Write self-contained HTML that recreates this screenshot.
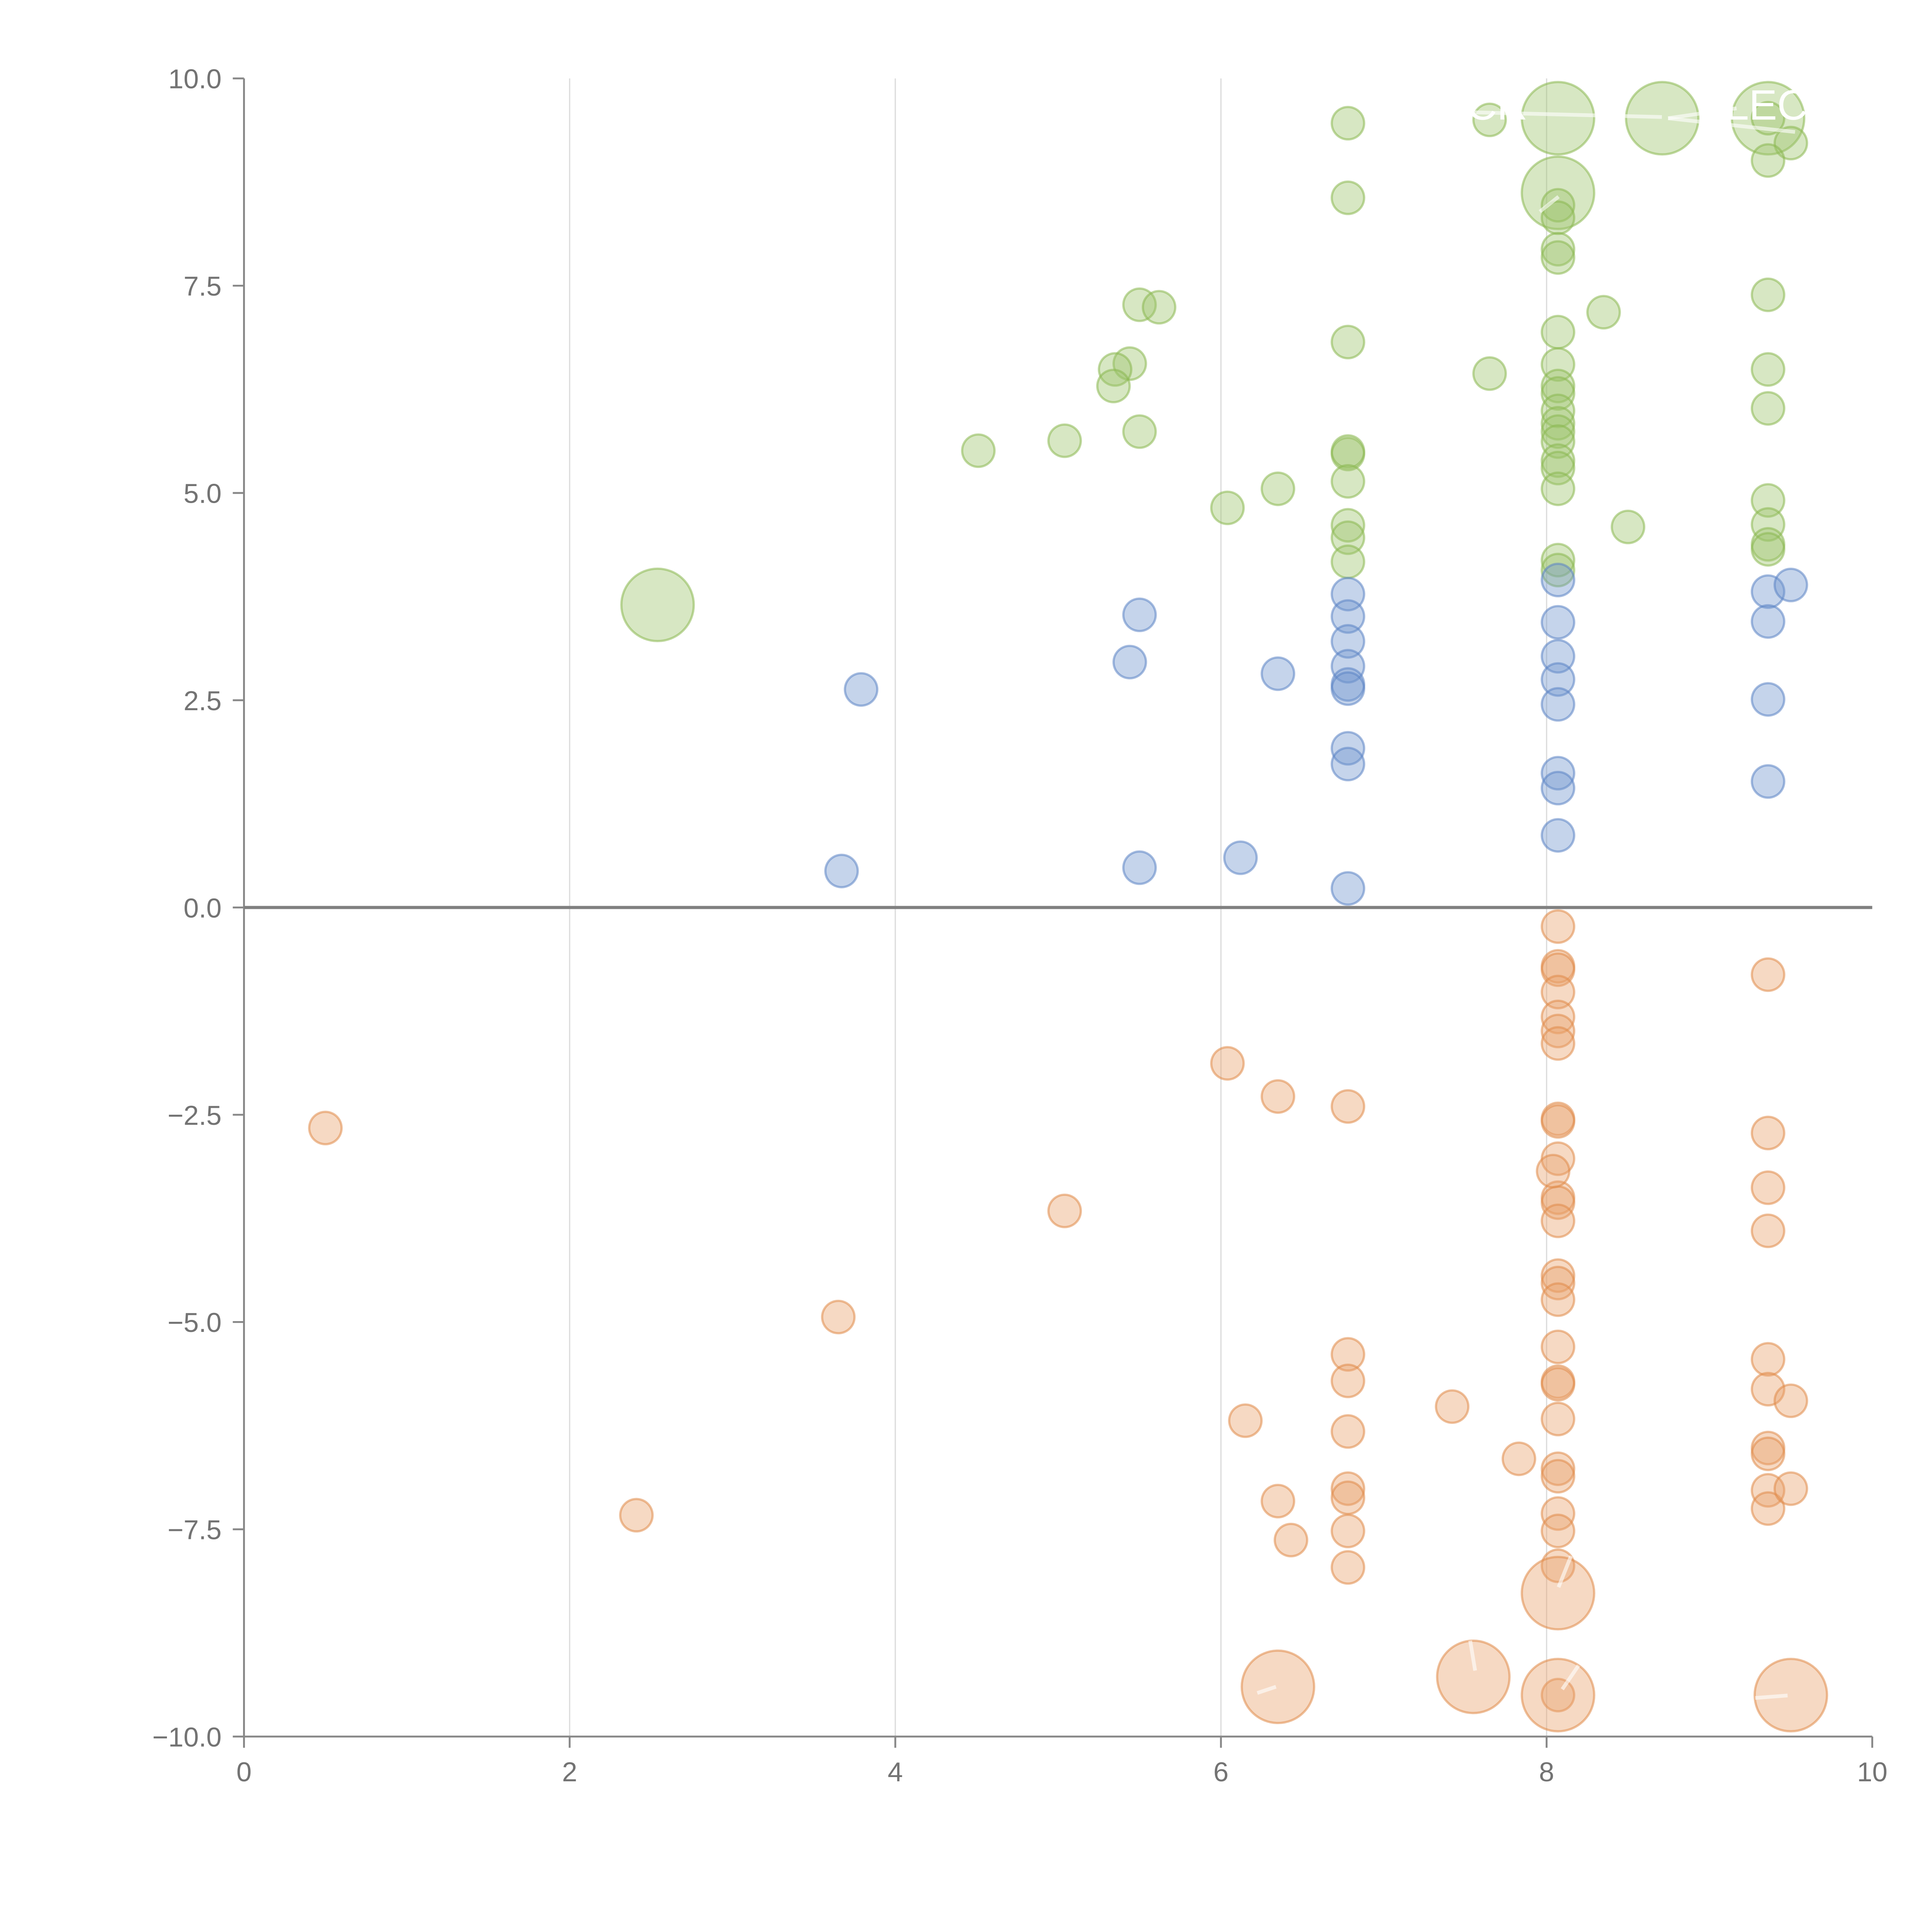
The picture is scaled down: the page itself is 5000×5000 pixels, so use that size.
<!DOCTYPE html>
<html><head><meta charset="utf-8"><style>
html,body{margin:0;padding:0;background:#fff;}
svg{display:block;font-family:"Liberation Sans",Arial,sans-serif;}
</style></head><body>
<svg id="chart" width="5000" height="5000" viewBox="0 0 1552 1552" xmlns="http://www.w3.org/2000/svg">
<g id="grid"></g>
<g id="axes"></g>
<g id="marks"></g>
<g id="labels"></g>
</svg>
<script>
const xTicks=[0,2,4,6,8,10];
const yTicks=[10,7.5,5,2.5,0,-2.5,-5,-7.5,-10];
const yTickLabels=["10.0","7.5","5.0","2.5","0.0","\u22122.5","\u22125.0","\u22127.5","\u221210.0"];
const greenX=[6.78,6.78,6.78,6.78,6.78,6.78,6.78,6.78,6.78,7.65,8.07,8.71,9.36,9.36,9.50,9.36,8.07,8.07,8.07,8.07,8.07,8.35,7.65,8.07,8.07,8.07,8.07,8.07,8.07,8.07,8.07,8.07,8.07,8.07,8.07,8.07,8.50,9.36,9.36,9.36,9.36,9.36,9.36,9.36,5.50,5.62,5.44,5.35,5.34,4.51,5.04,5.50,6.04,6.35,2.54];
const greenY=[9.46,8.56,6.82,5.47,5.50,5.14,4.61,4.46,4.17,9.50,9.52,9.52,9.52,9.52,9.22,9.01,8.62,8.47,8.32,7.94,7.84,7.18,6.44,6.94,6.55,6.29,6.20,5.99,5.84,5.74,5.62,5.39,5.30,5.05,4.19,4.07,4.59,7.39,6.49,6.02,4.91,4.62,4.38,4.32,7.27,7.24,6.56,6.49,6.29,5.51,5.63,5.74,4.82,5.05,3.65];
const greenS=[1,1,1,1,1,1,1,1,1,1,5,5,5,1,1,1,5,1,1,1,1,1,1,1,1,1,1,1,1,1,1,1,1,1,1,1,1,1,1,1,1,1,1,1,1,1,1,1,1,1,1,1,1,1,5];
const blueX=[3.79,3.67,5.50,5.44,5.50,6.12,6.35,6.78,6.78,6.78,6.78,6.78,6.78,6.78,6.78,6.78,8.07,8.07,8.07,8.07,8.07,8.07,8.07,8.07,9.36,9.36,9.36,9.36,9.50];
const blueY=[2.63,0.44,3.53,2.96,0.48,0.60,2.82,3.78,3.51,3.21,2.91,2.69,2.64,1.92,1.73,0.23,3.95,3.44,3.03,2.75,2.45,1.62,1.44,0.87,3.81,3.45,2.51,1.52,3.89];
const blueS=[1,1,1,1,1,1,1,1,1,1,1,1,1,1,1,1,1,1,1,1,1,1,1,1,1,1,1,1,1];
const orangeX=[0.50,2.41,3.65,5.04,6.04,6.35,6.78,6.15,6.35,6.43,6.78,6.78,6.78,6.78,6.78,6.78,6.78,7.42,7.83,8.07,8.07,8.07,8.07,8.07,8.07,8.07,8.07,8.07,8.07,8.07,8.07,8.07,8.07,8.07,8.07,8.07,8.07,8.07,8.07,8.07,8.07,8.07,8.07,8.07,8.07,8.04,8.07,8.07,6.35,7.55,9.50,9.36,9.36,9.36,9.36,9.36,9.36,9.36,9.36,9.36,9.36,9.50,9.50];
const orangeY=[-2.66,-7.33,-4.94,-3.66,-1.88,-2.28,-2.40,-6.19,-7.16,-7.63,-5.39,-5.71,-6.32,-7.01,-7.12,-7.52,-7.96,-6.02,-6.65,-0.23,-0.71,-0.75,-1.02,-1.32,-1.49,-1.64,-2.55,-2.58,-3.03,-3.50,-3.56,-3.78,-4.44,-4.53,-4.73,-5.30,-5.72,-5.75,-6.17,-6.77,-6.86,-7.31,-7.52,-7.94,-9.50,-3.18,-8.27,-9.50,-9.40,-9.28,-9.50,-0.81,-2.72,-3.38,-3.90,-5.45,-5.81,-6.52,-6.59,-7.03,-7.25,-5.95,-7.01];
const orangeS=[1,1,1,1,1,1,1,1,1,1,1,1,1,1,1,1,1,1,1,1,1,1,1,1,1,1,1,1,1,1,1,1,1,1,1,1,1,1,1,1,1,1,1,1,1,1,5,5,5,5,5,1,1,1,1,1,1,1,1,1,1,1,1];

const NS="http://www.w3.org/2000/svg";
const X0=196,X1=1504,YT=63,YB=1395;
function sx(v){return X0+(v-0)/(10-0)*(X1-X0);}
function sy(v){return YB-(v+10)/20*(YB-YT);}
function sr(s){return 13*Math.sqrt(s);}
function mk(tag,attrs,parent){const e=document.createElementNS(NS,tag);for(const k in attrs)e.setAttribute(k,attrs[k]);parent.appendChild(e);return e;}
const grid=document.getElementById('grid'),axes=document.getElementById('axes'),marks=document.getElementById('marks'),labels=document.getElementById('labels');

xTicks.forEach(function(t){
  if(t>0&&t<10){
    const g=mk('line',{x1:sx(t),x2:sx(t),y1:YT,y2:YB,stroke:'#dcdcdc','stroke-width':1},grid);
    
    
  }
  const tk=mk('line',{x1:sx(t),x2:sx(t),y1:YB,y2:YB+9,stroke:'#888','stroke-width':1.5},axes);
  
  
  const tl=mk('text',{x:sx(t),y:YB+36,'text-anchor':'middle','font-size':22,fill:'#737373'},axes);
  tl.textContent=String(t);
  
  
});
yTicks.forEach(function(t,i){
  const tk=mk('line',{x1:X0-9,x2:X0,y1:sy(t),y2:sy(t),stroke:'#888','stroke-width':1.5},axes);
  
  
  const tl=mk('text',{x:X0-18,y:sy(t)+8,'text-anchor':'end','font-size':22,fill:'#737373'},axes);
  tl.textContent=yTickLabels[i];
  
  
});
const ya=mk('line',{x1:X0,x2:X0,y1:YT,y2:YB,stroke:'#888','stroke-width':1.5},axes);


const xa=mk('line',{x1:X0,x2:X1,y1:YB,y2:YB,stroke:'#888','stroke-width':1.5},axes);


const zl=mk('line',{x1:X0,x2:X1,y1:sy(0),y2:sy(0),stroke:'#808080','stroke-width':2.5},axes);



function series(xs,ys,ss,fill,stroke,name){
  xs.forEach(function(x,i){
    const c=mk('circle',{cx:sx(x),cy:sy(ys[i]),r:sr(ss[i]),fill:fill,'fill-opacity':0.4,stroke:stroke,'stroke-opacity':0.55,'stroke-width':1.8},marks);
    
    
  });
}
series(greenX,greenY,greenS,'#9cc46a','#8ab850','green-bubble');
series(blueX,blueY,blueS,'#6f93cc','#5b83c4','blue-bubble');
series(orangeX,orangeY,orangeS,'#e8a06a','#e08a48','orange-bubble');

function wl(x1,y1,x2,y2){const l=mk('line',{x1:x1,y1:y1,x2:x2,y2:y2,stroke:'#fff','stroke-opacity':0.6,'stroke-width':3},labels);}
wl(1175,90,1335,94);wl(1340,95,1395,87);wl(1340,95,1442,106);wl(1237,170,1252,158);
wl(1252,1275,1262,1250);wl(1255,1357,1268,1338);wl(1185,1342,1181,1318);wl(1010,1360,1025,1355);wl(1410,1364,1436,1362);
function wt(x,y,s){const t=mk('text',{x:x,y:y,'font-size':34,fill:'#fff'},labels);t.textContent=s;}
wt(1178,96,'CR');wt(1386,96,'LEC');
</script>
</body></html>
